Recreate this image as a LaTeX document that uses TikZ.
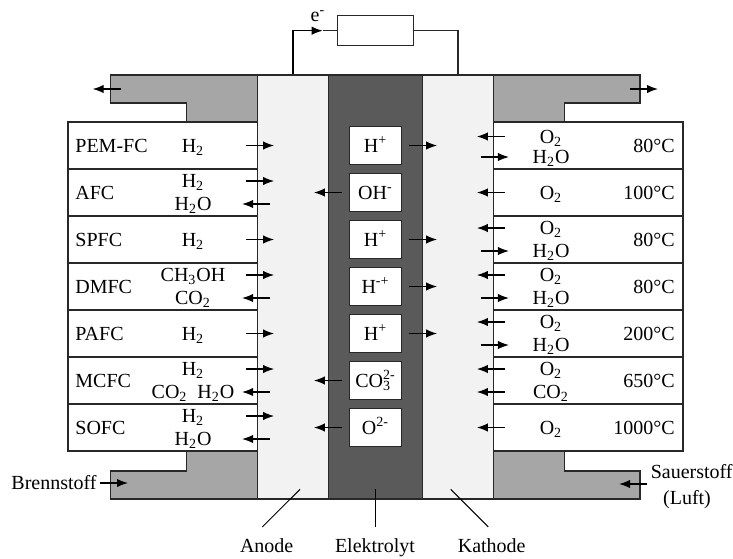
\documentclass[tikz,border=0pt]{standalone}
\usepackage{fontspec}
\setmainfont{Liberation Serif}
\usetikzlibrary{
    arrows.meta,
    calc
}
\definecolor{ink}{RGB}{40,40,40}
\definecolor{housing}{RGB}{166,166,166}
\definecolor{electrode}{RGB}{242,242,242}
\definecolor{electrolyte}{RGB}{90,90,90}
\tikzset{
    line join=miter,
    housing/.style={
        draw=ink,
        fill=housing,
        line width=0.6pt
    },
    electrode/.style={
        rectangle,
        draw=ink,
        fill=electrode,
        line width=0.6pt,
        minimum width=35.5pt,
        minimum height=212pt,
        inner sep=0pt
    },
    electrolyte/.style={
        electrode,
        fill=electrolyte,
        minimum width=47pt
    },
    cellrow/.style={
        rectangle,
        draw=ink,
        fill=white,
        line width=0.6pt,
        minimum width=94.75pt,
        minimum height=23.5pt,
        inner sep=0pt
    },
    chem/.style={
        inner sep=0pt,
        text height=6.6pt,
        text depth=0pt
    },
    ionbox/.style={
        chem,
        rectangle,
        draw=ink,
        fill=white,
        line width=0.6pt,
        minimum width=26pt,
        minimum height=18.75pt
    },
    loadbox/.style={
        rectangle,
        draw=ink,
        fill=white,
        line width=0.6pt,
        minimum width=38pt,
        minimum height=15pt,
        inner sep=0pt
    },
    typelabel/.style={chem, anchor=west},
    temp/.style={chem, anchor=east},
    wire/.style={
        draw=ink,
        line width=0.6pt
    },
    flow/.style={
        -{Latex[length=5.5pt,width=4.2pt]},
        draw=black,
        line width=0.6pt
    },
    leader/.style={
        draw=black,
        line width=0.5pt
    }
}

\begin{document}
\begin{tikzpicture}[x=0.5pt, y=-0.5pt]
\useasboundingbox (0,0) rectangle (733,558);

% Gas housings
\draw[housing] (110.7,75) -- (257.5,75) -- (257.5,122) -- (186.7,122) -- (186.7,103) -- (110.7,103) -- cycle;
\draw[housing] (493.5,75) -- (640,75) -- (640,103) -- (564.3,103) -- (564.3,122) -- (493.5,122) -- cycle;
\draw[housing] (257.5,451) -- (186.7,451) -- (186.7,471) -- (110.7,471) -- (110.7,499) -- (257.5,499) -- cycle;
\draw[housing] (493.5,451) -- (564.3,451) -- (564.3,471) -- (640,471) -- (640,499) -- (493.5,499) -- cycle;

% Cell layers
\node[electrode] (anode) at (293,287) {};
\node[electrolyte] (elyt) at (375.5,287) {};
\node[electrode] (cathode) at (458,287) {};

% External circuit
\node[loadbox] (load) at (375.3,30.7) {};
\node[chem] (eminus) at (318,15) {e\textsuperscript{-}};
\coordinate (etip) at ([xshift=-7pt]load.west);
\draw[flow] (anode.north) |- (etip);
\draw[wire] (etip) -- (load.west);
\draw[wire] (load.east) -| (cathode.north);

% Anode side rows
\node[cellrow] (pemL) at (162.75,145.5) {};
\node[cellrow] (afcL) at (162.75,192.5) {};
\node[cellrow] (spfcL) at (162.75,239.5) {};
\node[cellrow] (dmfcL) at (162.75,286.5) {};
\node[cellrow] (pafcL) at (162.75,333.5) {};
\node[cellrow] (mcfcL) at (162.75,380.5) {};
\node[cellrow] (sofcL) at (162.75,427.5) {};

\node[typelabel] (pemName) at (75,145.5) {PEM-FC};
\node[typelabel] (afcName) at (75,192.5) {AFC};
\node[typelabel] (spfcName) at (75,239.5) {SPFC};
\node[typelabel] (dmfcName) at (75,286.5) {DMFC};
\node[typelabel] (pafcName) at (75,333.5) {PAFC};
\node[typelabel] (mcfcName) at (75,380.5) {MCFC};
\node[typelabel] (sofcName) at (75,427.5) {SOFC};

\node[chem] (pemFuel) at (193,145.5) {H\textsubscript{2}};
\node[chem] (afcFuel) at (193,181) {H\textsubscript{2}};
\node[chem] (afcWaste) at (193,204) {H\textsubscript{2}O};
\node[chem] (spfcFuel) at (193,239.5) {H\textsubscript{2}};
\node[chem] (dmfcFuel) at (193,275) {CH\textsubscript{3}OH};
\node[chem] (dmfcWaste) at (193,298) {CO\textsubscript{2}};
\node[chem] (pafcFuel) at (193,333.5) {H\textsubscript{2}};
\node[chem] (mcfcFuel) at (193,369) {H\textsubscript{2}};
\node[chem] (mcfcWaste) at (193,392) {CO\textsubscript{2}\enspace H\textsubscript{2}O};
\node[chem] (sofcFuel) at (193,416) {H\textsubscript{2}};
\node[chem] (sofcWaste) at (193,439) {H\textsubscript{2}O};

\draw[flow] ([xshift=-6pt]pemL.east) -- ([xshift=8pt]pemL.east);
\draw[flow] ([xshift=-6pt,yshift=5.75pt]afcL.east) -- ([xshift=8pt,yshift=5.75pt]afcL.east);
\draw[flow] ([xshift=6pt,yshift=-5.75pt]afcL.east) -- ([xshift=-8pt,yshift=-5.75pt]afcL.east);
\draw[flow] ([xshift=-6pt]spfcL.east) -- ([xshift=8pt]spfcL.east);
\draw[flow] ([xshift=-6pt,yshift=5.75pt]dmfcL.east) -- ([xshift=8pt,yshift=5.75pt]dmfcL.east);
\draw[flow] ([xshift=6pt,yshift=-5.75pt]dmfcL.east) -- ([xshift=-8pt,yshift=-5.75pt]dmfcL.east);
\draw[flow] ([xshift=-6pt]pafcL.east) -- ([xshift=8pt]pafcL.east);
\draw[flow] ([xshift=-6pt,yshift=5.75pt]mcfcL.east) -- ([xshift=8pt,yshift=5.75pt]mcfcL.east);
\draw[flow] ([xshift=6pt,yshift=-5.75pt]mcfcL.east) -- ([xshift=-8pt,yshift=-5.75pt]mcfcL.east);
\draw[flow] ([xshift=-6pt,yshift=5.75pt]sofcL.east) -- ([xshift=8pt,yshift=5.75pt]sofcL.east);
\draw[flow] ([xshift=6pt,yshift=-5.75pt]sofcL.east) -- ([xshift=-8pt,yshift=-5.75pt]sofcL.east);

% Ions in the electrolyte
\node[ionbox] (pemIon) at (375.5,145.5) {H\textsuperscript{+}};
\node[ionbox] (afcIon) at (375.5,192.5) {OH\textsuperscript{-}};
\node[ionbox] (spfcIon) at (375.5,239.5) {H\textsuperscript{+}};
\node[ionbox] (dmfcIon) at (375.5,286.5) {H\textsuperscript{-+}};
\node[ionbox] (pafcIon) at (375.5,333.5) {H\textsuperscript{+}};
\node[ionbox] (mcfcIon) at (375.5,380.5) {CO\rlap{\textsubscript{3}}\textsuperscript{2-}};
\node[ionbox] (sofcIon) at (375.5,427.5) {O\textsuperscript{2-}};

\draw[flow] ([xshift=3.3pt]pemIon.east) -- ([xshift=17.5pt]pemIon.east);
\draw[flow] ([xshift=-3.3pt]afcIon.west) -- ([xshift=-17.5pt]afcIon.west);
\draw[flow] ([xshift=3.3pt]spfcIon.east) -- ([xshift=17.5pt]spfcIon.east);
\draw[flow] ([xshift=3.3pt]dmfcIon.east) -- ([xshift=17.5pt]dmfcIon.east);
\draw[flow] ([xshift=3.3pt]pafcIon.east) -- ([xshift=17.5pt]pafcIon.east);
\draw[flow] ([xshift=-3.3pt]mcfcIon.west) -- ([xshift=-17.5pt]mcfcIon.west);
\draw[flow] ([xshift=-3.3pt]sofcIon.west) -- ([xshift=-17.5pt]sofcIon.west);

% Cathode side rows
\node[cellrow] (pemR) at (588.25,145.5) {};
\node[cellrow] (afcR) at (588.25,192.5) {};
\node[cellrow] (spfcR) at (588.25,239.5) {};
\node[cellrow] (dmfcR) at (588.25,286.5) {};
\node[cellrow] (pafcR) at (588.25,333.5) {};
\node[cellrow] (mcfcR) at (588.25,380.5) {};
\node[cellrow] (sofcR) at (588.25,427.5) {};

\node[chem] (pemOx) at (551,136.5) {O\textsubscript{2}};
\node[chem] (pemProd) at (551,157) {H\textsubscript{2}O};
\node[chem] (afcOx) at (551,192.5) {O\textsubscript{2}};
\node[chem] (spfcOx) at (551,228) {O\textsubscript{2}};
\node[chem] (spfcProd) at (551,251) {H\textsubscript{2}O};
\node[chem] (dmfcOx) at (551,275) {O\textsubscript{2}};
\node[chem] (dmfcProd) at (551,298) {H\textsubscript{2}O};
\node[chem] (pafcOx) at (551,322) {O\textsubscript{2}};
\node[chem] (pafcProd) at (551,345) {H\textsubscript{2}O};
\node[chem] (mcfcOx) at (551,369) {O\textsubscript{2}};
\node[chem] (mcfcCarb) at (551,392) {CO\textsubscript{2}};
\node[chem] (sofcOx) at (551,427.5) {O\textsubscript{2}};

\node[temp] (pemTemp) at (675,145.5) {80°C};
\node[temp] (afcTemp) at (675,192.5) {100°C};
\node[temp] (spfcTemp) at (675,239.5) {80°C};
\node[temp] (dmfcTemp) at (675,286.5) {80°C};
\node[temp] (pafcTemp) at (675,333.5) {200°C};
\node[temp] (mcfcTemp) at (675,380.5) {650°C};
\node[temp] (sofcTemp) at (675,427.5) {1000°C};

\draw[flow] ([xshift=6pt,yshift=4.5pt]pemR.west) -- ([xshift=-8pt,yshift=4.5pt]pemR.west);
\draw[flow] ([xshift=-6pt,yshift=-5.75pt]pemR.west) -- ([xshift=8pt,yshift=-5.75pt]pemR.west);
\draw[flow] ([xshift=6pt]afcR.west) -- ([xshift=-8pt]afcR.west);
\draw[flow] ([xshift=6pt,yshift=5.75pt]spfcR.west) -- ([xshift=-8pt,yshift=5.75pt]spfcR.west);
\draw[flow] ([xshift=-6pt,yshift=-5.75pt]spfcR.west) -- ([xshift=8pt,yshift=-5.75pt]spfcR.west);
\draw[flow] ([xshift=6pt,yshift=5.75pt]dmfcR.west) -- ([xshift=-8pt,yshift=5.75pt]dmfcR.west);
\draw[flow] ([xshift=-6pt,yshift=-5.75pt]dmfcR.west) -- ([xshift=8pt,yshift=-5.75pt]dmfcR.west);
\draw[flow] ([xshift=6pt,yshift=5.75pt]pafcR.west) -- ([xshift=-8pt,yshift=5.75pt]pafcR.west);
\draw[flow] ([xshift=-6pt,yshift=-5.75pt]pafcR.west) -- ([xshift=8pt,yshift=-5.75pt]pafcR.west);
\draw[flow] ([xshift=6pt,yshift=5.75pt]mcfcR.west) -- ([xshift=-8pt,yshift=5.75pt]mcfcR.west);
\draw[flow] ([xshift=6pt,yshift=-5.75pt]mcfcR.west) -- ([xshift=-8pt,yshift=-5.75pt]mcfcR.west);
\draw[flow] ([xshift=6pt]sofcR.west) -- ([xshift=-8pt]sofcR.west);

% Supply and exhaust
\coordinate (fuelOut) at (120.7,89);
\coordinate (airOut) at (630,89);
\draw[flow] (fuelOut) -- ++(-28,0);
\draw[flow] (airOut) -- ++(28,0);

\node[chem, anchor=east] (fuel) at (97,483) {Brennstoff};
\node[chem] (oxygen) at (691.7,472.3) {Sauerstoff};
\node[chem] (oxygenAir) at (687,498.3) {(Luft)};
\draw[flow] ([xshift=1.5pt]fuel.east) -- ++(28,0);
\draw[flow] ([xshift=-1.5pt,yshift=-5.85pt]oxygen.west) -- ++(-28.3,0);

% Layer labels
\node[chem] (anodeLbl) at (266.7,545.5) {Anode};
\node[chem] (elytLbl) at (375,545.5) {Elektrolyt};
\node[chem] (cathodeLbl) at (491.7,545.5) {Kathode};
\coordinate (anodePin) at (300,489.3);
\coordinate (elytPin) at (375,489.3);
\coordinate (cathodePin) at (450.7,489.3);
\draw[leader] ([xshift=-2.2pt,yshift=5.8pt]anodeLbl.north) -- (anodePin);
\draw[leader] ([yshift=5.8pt]elytLbl.north) -- (elytPin);
\draw[leader] ([xshift=-1.7pt,yshift=5.8pt]cathodeLbl.north) -- (cathodePin);

\end{tikzpicture}
\end{document}
